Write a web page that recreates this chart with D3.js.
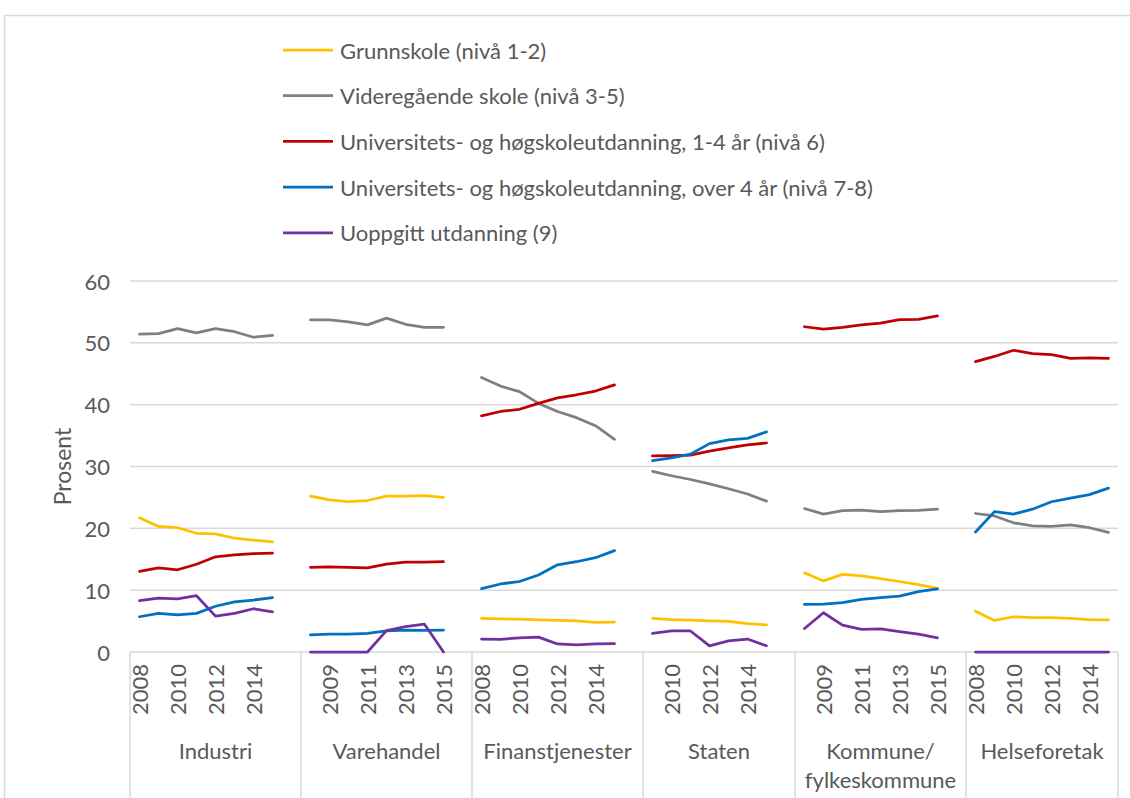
<!DOCTYPE html>
<html>
<head>
<meta charset="utf-8">
<script src="https://cdn.jsdelivr.net/npm/d3@7"></script>
<style>
  body { margin: 0; background: #fff; }
  text { font-family: Lato, "Open Sans", sans-serif; fill: #595959; }
</style>
</head>
<body>
<script>
const groups = ['Industri', 'Varehandel', 'Finanstjenester', 'Staten', 'Kommune/\nfylkeskommune', 'Helseforetak'];
const years = [2008, 2009, 2010, 2011, 2012, 2013, 2014, 2015];
const yTicks = [0, 10, 20, 30, 40, 50, 60];

// one inner array per group, values per year 2008-2015 (null = no category)
const grunnskole = [
  [21.7, 20.3, 20.1, 19.2, 19.1, 18.4, 18.1, 17.8],
  [25.2, 24.6, 24.3, 24.5, 25.2, 25.2, 25.3, 25.0],
  [5.45, 5.35, 5.3, 5.2, 5.1, 5.05, 4.8, 4.85],
  [null, 5.45, 5.25, 5.15, 5.05, 4.95, 4.6, 4.4],
  [12.8, 11.5, 12.55, 12.3, 11.85, 11.4, 10.9, 10.3],
  [6.6, 5.1, 5.7, 5.55, 5.55, 5.45, 5.25, 5.2]
];
const videregaende = [
  [51.4, 51.5, 52.3, 51.6, 52.3, 51.8, 50.9, 51.2],
  [53.7, 53.7, 53.4, 52.9, 54.0, 53.0, 52.5, 52.5],
  [44.4, 43.0, 42.1, 40.2, 38.9, 37.9, 36.6, 34.4],
  [null, 29.2, 28.5, 27.9, 27.2, 26.4, 25.55, 24.4],
  [23.2, 22.3, 22.85, 22.95, 22.7, 22.85, 22.9, 23.1],
  [22.4, 22.0, 20.9, 20.4, 20.3, 20.55, 20.1, 19.35]
];
const uniKort = [
  [13.05, 13.6, 13.3, 14.2, 15.4, 15.7, 15.9, 16.0],
  [13.7, 13.75, 13.7, 13.6, 14.2, 14.55, 14.55, 14.6],
  [38.2, 38.9, 39.25, 40.2, 41.1, 41.6, 42.2, 43.2],
  [null, 31.7, 31.75, 31.85, 32.5, 33.0, 33.5, 33.8],
  [52.6, 52.2, 52.5, 52.9, 53.2, 53.75, 53.8, 54.35],
  [46.95, 47.8, 48.8, 48.25, 48.1, 47.5, 47.55, 47.5]
];
const uniLang = [
  [5.7, 6.25, 6.0, 6.25, 7.4, 8.1, 8.4, 8.8],
  [2.75, 2.9, 2.9, 3.0, 3.4, 3.55, 3.5, 3.55],
  [10.25, 11.0, 11.4, 12.45, 14.1, 14.6, 15.25, 16.4],
  [null, 30.95, 31.4, 32.0, 33.7, 34.3, 34.55, 35.6],
  [7.7, 7.75, 8.0, 8.5, 8.8, 9.05, 9.75, 10.2],
  [19.4, 22.7, 22.3, 23.1, 24.3, 24.9, 25.45, 26.5]
];
const uoppgitt = [
  [8.3, 8.7, 8.6, 9.1, 5.8, 6.25, 7.0, 6.5],
  [0, 0, 0, 0, 3.45, 4.1, 4.5, 0],
  [2.1, 2.05, 2.3, 2.4, 1.3, 1.15, 1.3, 1.35],
  [null, 3.0, 3.4, 3.4, 1.0, 1.8, 2.1, 1.0],
  [3.8, 6.35, 4.35, 3.65, 3.75, 3.3, 2.9, 2.3],
  [0, 0, 0, 0, 0, 0, 0, 0]
];

const series = [
  { name: 'Grunnskole (nivå 1-2)', values: grunnskole, color: '#FFC000' },
  { name: 'Videregående skole (nivå 3-5)', values: videregaende, color: '#7F7F7F' },
  { name: 'Universitets- og høgskoleutdanning, 1-4 år (nivå 6)', values: uniKort, color: '#C00000' },
  { name: 'Universitets- og høgskoleutdanning, over 4 år (nivå 7-8)', values: uniLang, color: '#0070C0' },
  { name: 'Uoppgitt utdanning (9)', values: uoppgitt, color: '#7030A0' }
];

// build the category list: years with data in each group, a blank slot between groups
const categories = [];
groups.forEach((g, gi) => {
  years.forEach((yr, yi) => {
    if (series.some(s => s.values[gi][yi] != null)) {
      categories.push({ id: gi + '-' + yr, group: gi, year: yr, yi: yi });
    }
  });
  if (gi < groups.length - 1) categories.push({ id: 'blank-' + gi, group: gi, year: null });
});

const W = 1130, H = 798;
const plotLeft = 130, plotRight = 1118, plotTop = 281, plotBottom = 652;

const svg = d3.select('body').append('svg')
  .attr('width', W)
  .attr('height', H);

// chart border
svg.append('rect')
  .attr('x', 4.5).attr('y', 15.5)
  .attr('width', W + 20).attr('height', H + 20)
  .attr('fill', 'none')
  .attr('stroke', '#D9D9D9')
  .attr('stroke-width', 1.5);

const x = d3.scaleBand()
  .domain(categories.map(c => c.id))
  .range([plotLeft, plotRight])
  .padding(0);

const y = d3.scaleLinear()
  .domain([0, 60])
  .range([plotBottom, plotTop]);

// gridlines
svg.append('g')
  .selectAll('line')
  .data(yTicks)
  .enter()
  .append('line')
  .attr('x1', plotLeft).attr('x2', plotRight)
  .attr('y1', d => y(d)).attr('y2', d => y(d))
  .attr('stroke', '#D9D9D9')
  .attr('stroke-width', 1.5);

// y tick labels
svg.append('g')
  .selectAll('text')
  .data(yTicks)
  .enter()
  .append('text')
  .attr('x', 110)
  .attr('y', d => y(d))
  .attr('text-anchor', 'end')
  .attr('dominant-baseline', 'central')
  .style('font-size', '22px')
  .text(d => d);

svg.append('text')
  .attr('transform', `translate(62,${(plotTop + plotBottom) / 2}) rotate(-90)`)
  .attr('text-anchor', 'middle')
  .attr('dominant-baseline', 'central')
  .style('font-size', '23px')
  .text('Prosent');

// group separators (left edge, between groups, right edge)
const groupStarts = groups.map((g, gi) => x(categories.find(c => c.group === gi).id));
const sepX = groupStarts.concat([plotRight]);
svg.append('g')
  .selectAll('line')
  .data(sepX)
  .enter()
  .append('line')
  .attr('x1', d => d).attr('x2', d => d)
  .attr('y1', plotBottom).attr('y2', H)
  .attr('stroke', '#D9D9D9')
  .attr('stroke-width', 1.5);

// year labels, every other category
svg.append('g')
  .selectAll('text')
  .data(categories.filter((c, i) => i % 2 === 0 && c.year != null))
  .enter()
  .append('text')
  .attr('transform', d => `translate(${x(d.id) + x.bandwidth() / 2},664) rotate(-90)`)
  .attr('text-anchor', 'end')
  .attr('dominant-baseline', 'central')
  .style('font-size', '22px')
  .text(d => d.year);

// group labels
groups.forEach((g, gi) => {
  const cx = (sepX[gi] + sepX[gi + 1]) / 2;
  const t = svg.append('text')
    .attr('x', cx)
    .attr('y', 750)
    .attr('text-anchor', 'middle')
    .attr('dominant-baseline', 'central')
    .style('font-size', '22px');
  g.split('\n').forEach((part, pi) => {
    t.append('tspan')
      .attr('x', cx)
      .attr('dy', pi === 0 ? 0 : 29)
      .text(part);
  });
});

// lines
const line = d3.line()
  .defined(d => d.v != null)
  .x(d => x(d.id) + x.bandwidth() / 2)
  .y(d => y(d.v));

series.forEach(s => {
  const pts = categories.map(c => ({
    id: c.id,
    v: c.year == null ? null : s.values[c.group][c.yi]
  }));
  svg.append('path')
    .datum(pts)
    .attr('fill', 'none')
    .attr('stroke', s.color)
    .attr('stroke-width', 2.75)
    .attr('stroke-linejoin', 'round')
    .attr('stroke-linecap', 'round')
    .attr('d', line);
});

// legend
const legend = svg.append('g')
  .attr('transform', 'translate(283,50)');

series.forEach((s, i) => {
  legend.append('line')
    .attr('x1', 0).attr('x2', 50)
    .attr('y1', i * 45.7).attr('y2', i * 45.7)
    .attr('stroke', s.color)
    .attr('stroke-width', 2.75);
  legend.append('text')
    .attr('x', 57)
    .attr('y', i * 45.7)
    .attr('dominant-baseline', 'central')
    .style('font-size', '22px')
    .text(s.name);
});
</script>
</body>
</html>
